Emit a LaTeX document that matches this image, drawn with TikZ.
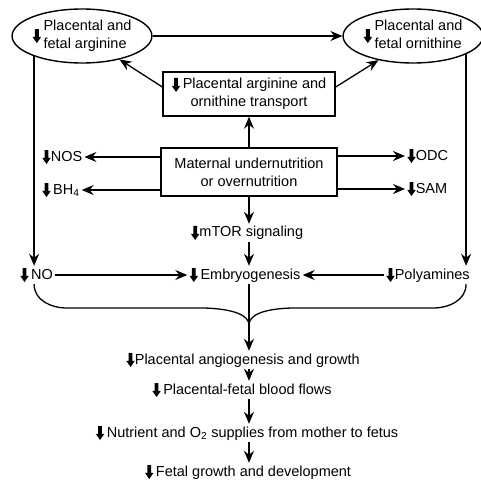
\documentclass[tikz,border=0pt]{standalone}
\usepackage{fontspec}
\setmainfont{Liberation Sans}
\usetikzlibrary{arrows.meta,shapes.geometric}
\newcommand\dnarr[1][0pt]{\tikz[baseline=#1]\fill (-1.9pt,11pt) -- (1.9pt,11pt) -- (1.9pt,3.2pt) -- (4.3pt,3.2pt) -- (0pt,-3pt) -- (-4.3pt,3.2pt) -- (-1.9pt,3.2pt) -- cycle;}
\begin{document}
\begin{tikzpicture}[x=1pt,y=-1pt,
  font=\fontsize{14.5}{18}\selectfont,
  line width=1.3pt,
  >={Stealth[length=12pt,width=10pt,inset=4pt]},
  lbl/.style={inner sep=2pt},
  oval/.style={ellipse,draw,line width=1.4pt,minimum width=137pt,minimum height=54pt,inner sep=0pt},
  rbox/.style={draw,line width=1.4pt,align=center,inner sep=0pt}]
\useasboundingbox (0,0) rectangle (480,485);

\node[oval] (larg) at (82,36) {\dnarr[0.5pt]\,\begin{tabular}{@{}l@{}}Placental and\\fetal arginine\end{tabular}};
\node[oval,minimum width=130pt] (rorn) at (413,36) {\dnarr[0.5pt]\,\begin{tabular}{@{}l@{}}Placental and\\fetal ornithine\end{tabular}};

\node[rbox,minimum width=172pt,minimum height=44pt] (trans) at (249,94) {\dnarr\,Placental arginine and\\ornithine transport};
\node[rbox,minimum width=176pt,minimum height=48pt] (mat) at (249,172) {Maternal undernutrition\\or overnutrition};

\node[lbl,anchor=west] (NOS) at (40,157) {\dnarr NOS};
\node[lbl,anchor=west] (BH) at (40,190) {\dnarr\,BH\textsubscript{4}};
\node[lbl,anchor=west] (ODC) at (405,156) {\dnarr ODC};
\node[lbl,anchor=west] (SAM) at (405,189) {\dnarr SAM};

\node[lbl] (mtor) at (247,233) {\dnarr mTOR signaling};
\node[lbl] (emb) at (245,275) {\dnarr\,Embryogenesis};
\node[lbl,anchor=west] (NO) at (18,275) {\dnarr\,NO};
\node[lbl,anchor=west] (poly) at (384,275) {\dnarr Polyamines};

\node[lbl] (ang) at (243,360) {\dnarr Placental angiogenesis and growth};
\node[lbl] (flow) at (242,390) {\dnarr\,Placental-fetal blood flows};
\node[lbl] (nut) at (247,433) {\dnarr\,Nutrient and O\textsubscript{2} supplies from mother to fetus};
\node[lbl] (fetal) at (248,472) {\dnarr\,Fetal growth and development};

\coordinate (cusp) at (mat.south |- 0,325);

% top connections
\draw[->] (larg.east) -- (rorn.west);
\draw[->] ([yshift=7pt]trans.west) -- (larg.-32);
\draw[->] ([yshift=7pt]trans.east) -- (rorn.-145);
\draw[->] (mat.north) -- (trans.south);

% side arrows
\draw[->] (mat.west |- NOS.east) -- (NOS.east);
\draw[->] (mat.west |- BH.east) -- (BH.east);
\draw[->] (mat.east |- ODC.west) -- (ODC.west);
\draw[->] (mat.east |- SAM.west) -- (SAM.west);

% verticals
\draw[->] (larg.-157) -- (larg.-157 |- NO.north);
\draw[->] (rorn.-19) -- (rorn.-19 |- poly.north);
\draw[->] (mat.south) -- (mat.south |- mtor.north);
\draw[->] (mtor.south -| mat.south) -- (mat.south |- emb.north);
\draw[->] (NO.east) -- (emb.west);
\draw[->] (poly.west) -- (emb.east);

% brace
\draw (larg.-157 |- NO.south) .. controls +(0,16) and +(-16,0) .. (67,308) -- (205,308) .. controls +(28,1) and +(0,-10) .. (cusp);
\draw (rorn.-19 |- poly.south) .. controls +(0,16) and +(16,0) .. (433,308) -- (291,308) .. controls +(-28,1) and +(0,-10) .. (cusp);
\draw[->] (emb.south -| mat.south) -- (mat.south |- ang.north);

\draw[->] (ang.south -| mat.south) -- (mat.south |- flow.north);
\draw[->] (flow.south -| mat.south) -- (mat.south |- nut.north);
\draw[->] (nut.south -| mat.south) -- (mat.south |- fetal.north);
\end{tikzpicture}
\end{document}
